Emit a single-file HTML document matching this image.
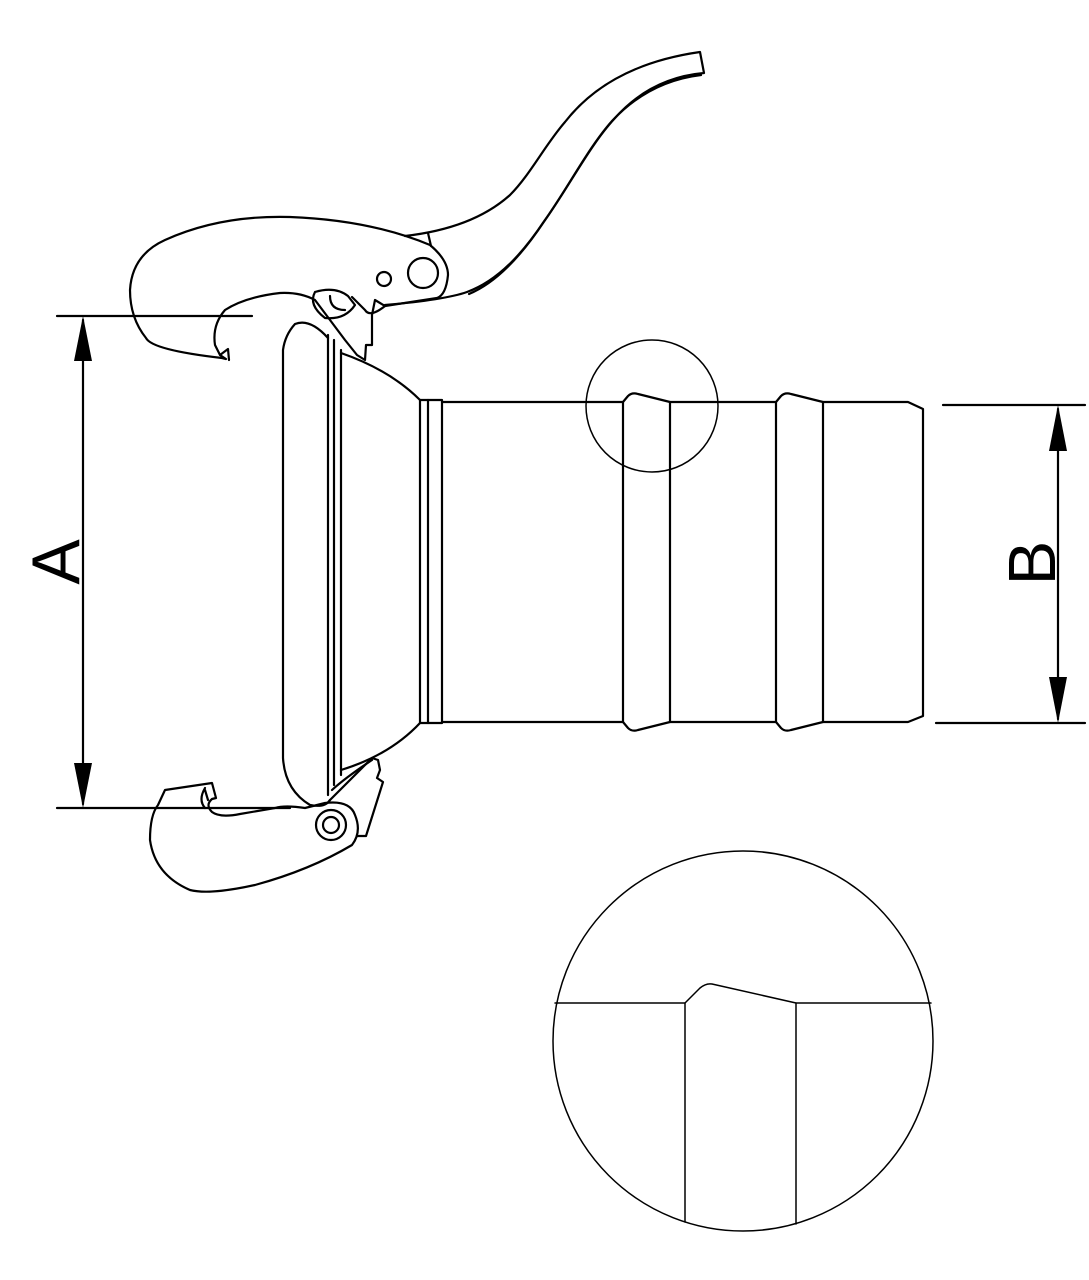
<!DOCTYPE html>
<html><head><meta charset="utf-8"><style>html,body{margin:0;padding:0;background:#fff}svg{display:block}</style></head>
<body>
<svg width="1089" height="1280" viewBox="0 0 1089 1280" xmlns="http://www.w3.org/2000/svg" fill="none" stroke="#000" stroke-width="2.2" stroke-linejoin="round" stroke-linecap="round">
<!-- dimension A -->
<line x1="57" y1="316" x2="252" y2="316"/>
<line x1="57" y1="808" x2="290" y2="808"/>
<line x1="83" y1="320" x2="83" y2="804"/>
<polygon points="83,316 74,361 92,361" fill="#000" stroke="none"/>
<polygon points="83,808 74,763 92,763" fill="#000" stroke="none"/>
<text transform="translate(79,562) rotate(-90)" text-anchor="middle" font-family="Liberation Sans, sans-serif" font-size="68" fill="#000" stroke="none">A</text>
<!-- dimension B -->
<line x1="943" y1="405" x2="1085" y2="405"/>
<line x1="936" y1="723" x2="1085" y2="723"/>
<line x1="1058" y1="409" x2="1058" y2="719"/>
<polygon points="1058,405 1049,451 1067,451" fill="#000" stroke="none"/>
<polygon points="1058,723 1049,677 1067,677" fill="#000" stroke="none"/>
<text transform="translate(1055,563) rotate(-90)" text-anchor="middle" font-family="Liberation Sans, sans-serif" font-size="67" fill="#000" stroke="none">B</text>

<!-- tube -->
<path d="M442,402 H623 L628,396 Q632,392 638,394 L670,402 H776 L781,396 Q785,392 791,394 L823,402 H908 L923,409 V716 L908,722 H823 L791,730 Q785,732 781,728 L776,722 H670 L638,730 Q632,732 628,728 L623,722 H442"/>
<line x1="623" y1="402" x2="623" y2="722"/>
<line x1="670" y1="402" x2="670" y2="722"/>
<line x1="776" y1="402" x2="776" y2="722"/>
<line x1="823" y1="402" x2="823" y2="722"/>
<!-- flange -->
<path d="M420,400 H442 V723 H420 Z"/>
<line x1="428" y1="400" x2="428" y2="723"/>
<path d="M341,353 Q390,370 420,400"/>
<path d="M341,770 Q390,755 420,723"/>
<path d="M328,338 Q310,318 295,324 Q285,335 283,350 V758 Q285,790 310,805 Q325,808 330,800"/>
<line x1="328" y1="335" x2="328" y2="795"/>
<line x1="334" y1="340" x2="334" y2="785"/>
<line x1="341" y1="350" x2="341" y2="775"/>

<!-- upper latch -->
<path d="M226,359 L222,358 Q152,350 146,338 Q130,318 130,290 Q132,255 165,240 Q220,215 290,217 Q370,220 430,245 Q448,260 448,275 Q446,295 437,298 L385,306 L375,300 L372,315 L372,345 L366,345 L365,360 L357,355 L345,340 L330,320 L315,300 Q300,292 280,293 Q245,297 225,310 Q212,325 215,345 L220,355 Z"/>
<path d="M220,355 L228,349 L229,360"/>
<path d="M315,292 Q308,305 325,318 Q345,320 355,305 L348,296 Q335,286 315,292"/>
<path d="M330,296 Q330,310 345,310"/>
<path d="M352,297 L365,310 Q370,318 385,306"/>
<circle cx="384" cy="279" r="7"/>
<circle cx="423" cy="273" r="15"/>
<!-- handle -->
<path d="M405,236 C440,232 480,222 510,195 C530,175 545,145 565,122 C590,90 630,62 700,52 L704,73 C670,76 640,90 615,118 C590,145 570,185 545,220 C525,250 500,280 467,292 C450,298 420,302 385,305"/>
<path d="M701,75 C668,79 638,93 612,121 C588,148 568,188 543,223 C523,253 498,282 469,294"/>
<path d="M428,233 L431,246"/>

<!-- lower latch -->
<path d="M165,790 L212,783 L216,798 L212,799 Q205,805 212,812 Q220,818 240,814 L275,808 Q285,805 305,808 L325,803 Q350,800 355,815 Q362,832 352,845 Q310,870 255,885 Q210,895 190,890 Q155,875 150,840 Q150,815 158,805 Z"/>
<path d="M205,790 L208,800 M205,788 Q198,800 205,808"/>
<circle cx="331" cy="825" r="15"/>
<circle cx="331" cy="825" r="8"/>
<path d="M330,800 Q350,780 372,758 L378,760 L380,770 L377,778 L383,782 L366,836 L357,836"/>
<path d="M332,790 Q345,778 372,760"/>

<!-- detail circles -->
<circle cx="652" cy="406" r="66" stroke-width="1.5"/>
<circle cx="743" cy="1041" r="190" stroke-width="1.5"/>
<path d="M555,1003 H685 L700,988 Q706,983 712,984 L796,1003 H931" stroke-width="1.5"/>
<line x1="685" y1="1003" x2="685" y2="1222" stroke-width="1.5"/>
<line x1="796" y1="1003" x2="796" y2="1224" stroke-width="1.5"/>
</svg>
</body></html>
